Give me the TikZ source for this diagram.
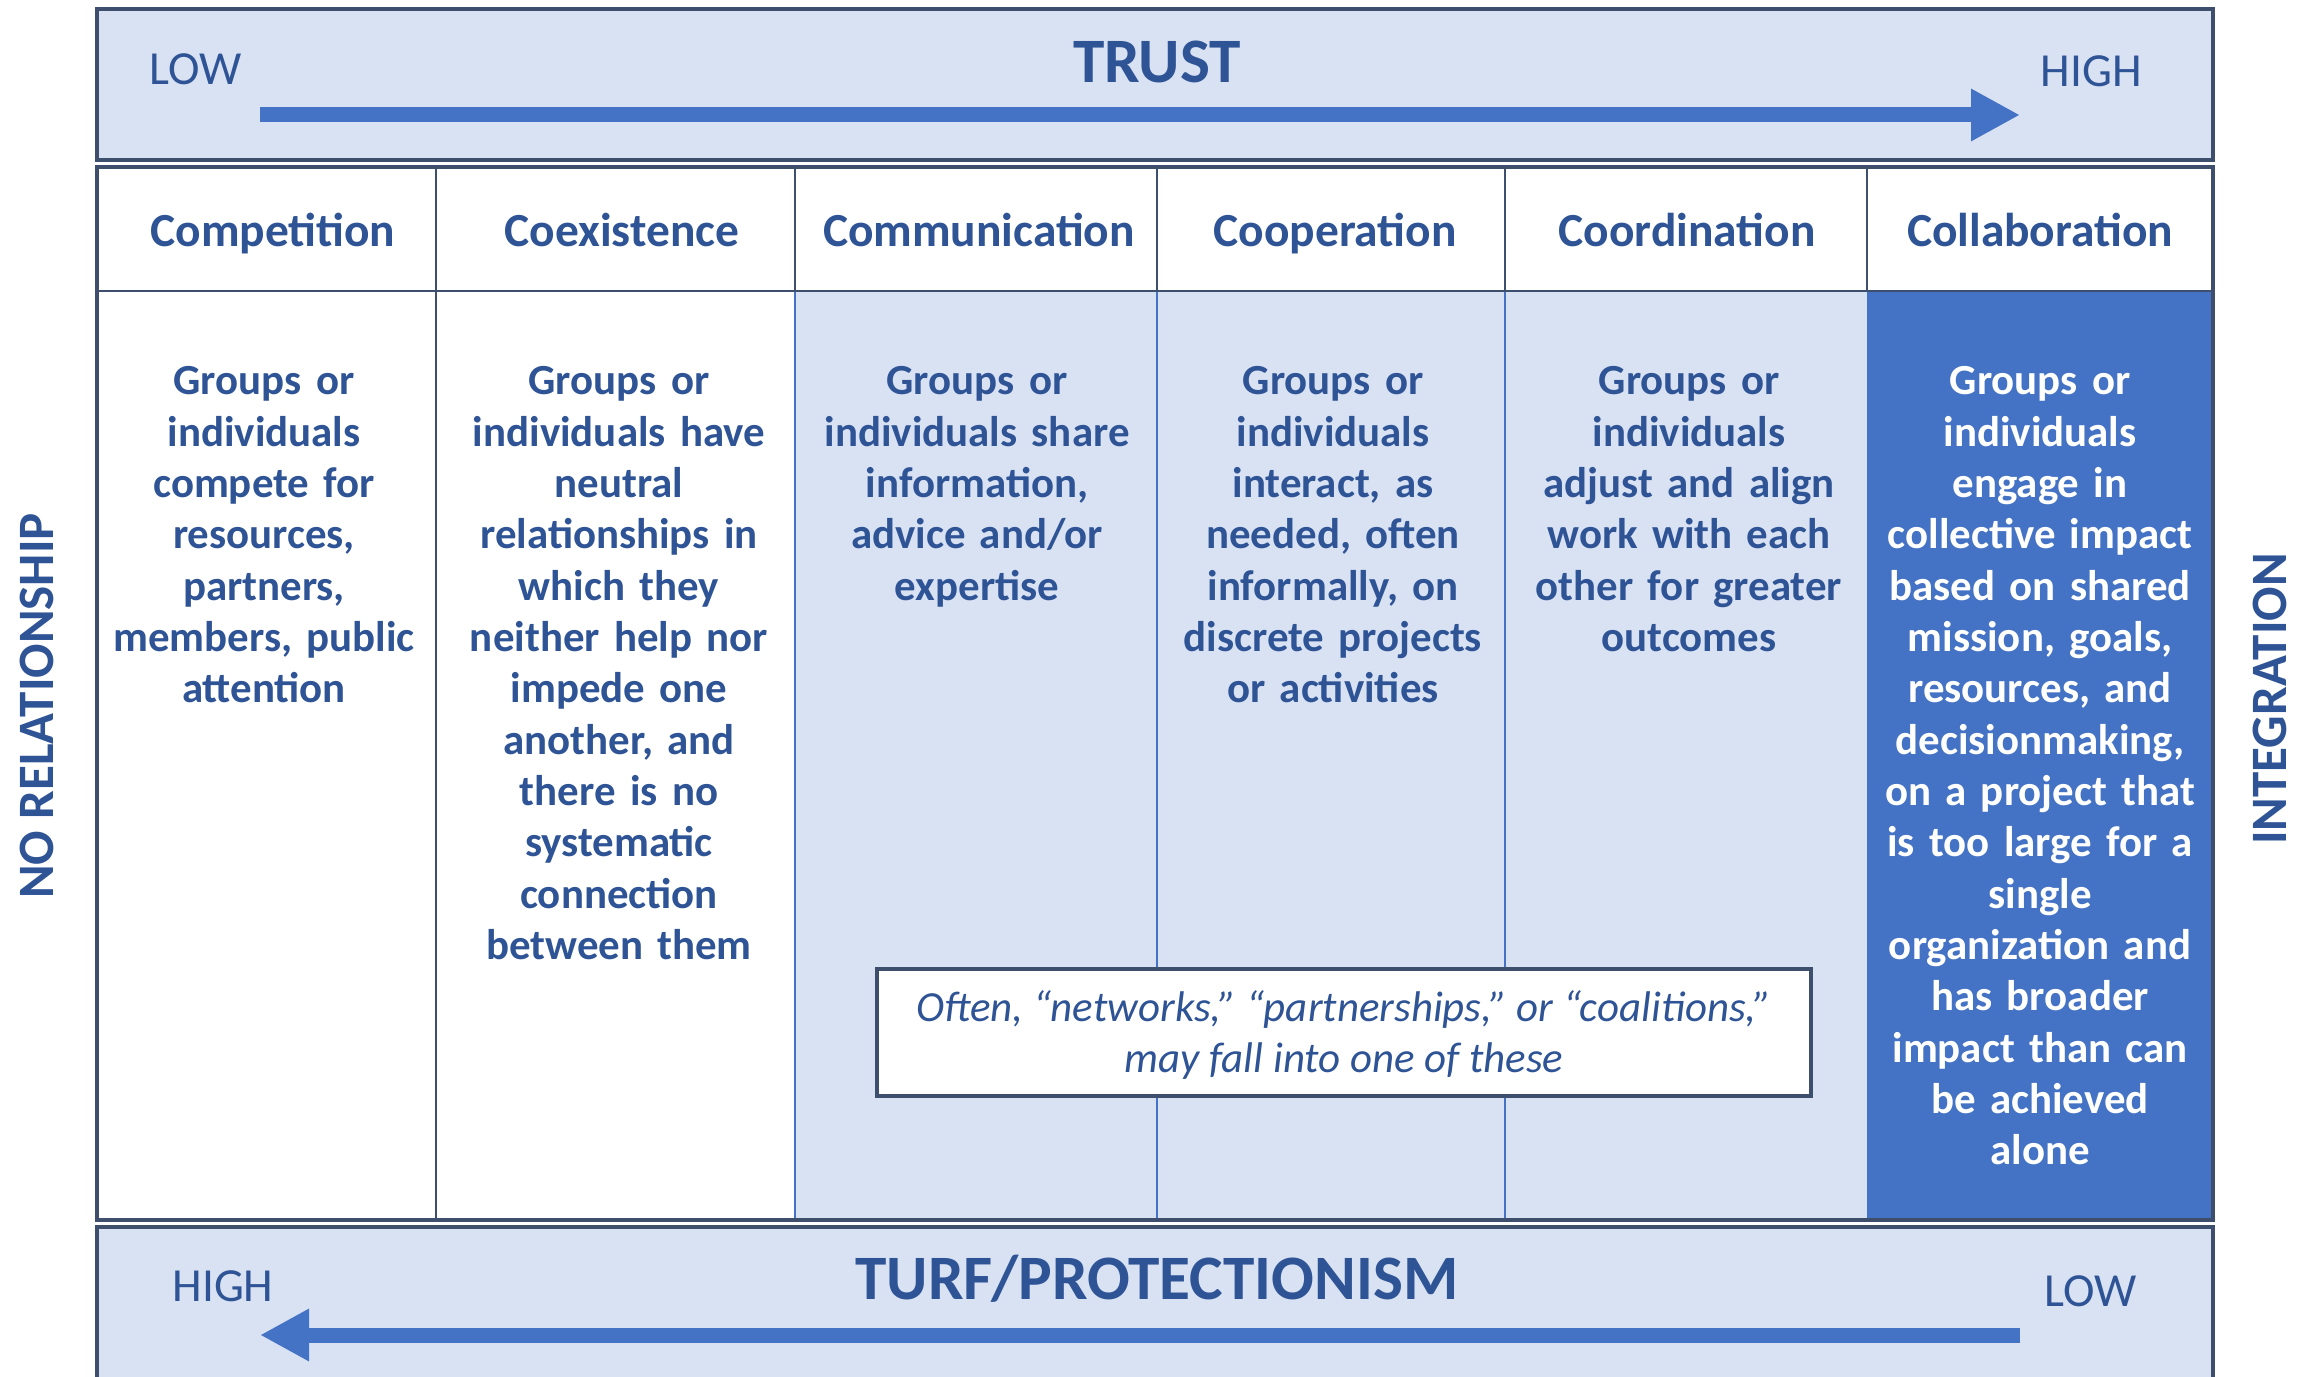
\documentclass[tikz,border=0pt]{standalone}
\usepackage{fontspec}
\setmainfont{Carlito}
\usetikzlibrary{arrows.meta}
\definecolor{lightbg}{HTML}{D9E2F3}
\definecolor{midblue}{HTML}{4472C4}
\definecolor{txtblue}{HTML}{2F5496}
\definecolor{framec}{HTML}{3E4F6E}
\begin{document}
\begin{tikzpicture}[x=0.01cm,y=-0.01cm,
  boxframe/.style={draw=framec, line width=0.9pt},
  gridline/.style={draw=framec, line width=0.4pt},
  bodyline/.style={draw=midblue, line width=0.5pt},
  headlabel/.style={text=txtblue, font=\fontsize{13.5}{16}\selectfont\bfseries, inner sep=0pt, anchor=base},
  celltext/.style={text=txtblue, font=\fontsize{12.2}{14.6}\selectfont\bfseries, align=center, text width=3.3cm, anchor=north, inner sep=0pt},
  axislabel/.style={text=txtblue, font=\fontsize{13.5}{16}\selectfont, inner sep=0pt},
  bigtitle/.style={text=txtblue, font=\fontsize{18}{21}\selectfont\bfseries, inner sep=0pt},
  sidelabel/.style={text=txtblue, font=\fontsize{14.5}{17}\selectfont\bfseries, rotate=90, inner sep=0pt},
  bigarrow/.style={draw=midblue, line width=1.5mm, -{Triangle[length=4.9mm,width=4.9mm]}}
]
\useasboundingbox (0,0) rectangle (2316,1377);
\clip (0,0) rectangle (2316,1377);
\fill[white] (0,0) rectangle (2316,1377);

% top box
\path[boxframe, fill=lightbg] (97,9) rectangle (2213,160);
\node[bigtitle] (trust) at (1157,62) {TRUST};
\node[axislabel] (tlow) at (196,69) {LOW};
\node[axislabel] (thigh) at (2091,71) {HIGH};
\coordinate (ta) at (260,115);
\coordinate (tb) at (2020,115);
\draw[bigarrow] (ta) -- (tb);

% table fills
\fill[white] (97,167) rectangle (2213,291);
\fill[white] (97,291) rectangle (795,1220);
\fill[lightbg] (795,291) rectangle (1867,1220);
\fill[midblue] (1867,291) rectangle (2213,1220);

% grid
\foreach \xx in {436,795,1157,1505,1867} \path[gridline] (\xx,167) -- (\xx,291);
\path[gridline] (436,291) -- (436,1220);
\foreach \xx in {795,1157,1505} \path[bodyline] (\xx,291) -- (\xx,1220);
\path[gridline] (97,291) -- (2213,291);
\path[boxframe] (97,167) rectangle (2213,1220);

% headers
\node[headlabel] (h1) at (273,247) {Competition};
\node[headlabel] (h2) at (622,247) {Coexistence};
\node[headlabel] (h3) at (979,247) {Communication};
\node[headlabel] (h4) at (1335,247) {Cooperation};
\node[headlabel] (h5) at (1687,247) {Coordination};
\node[headlabel] (h6) at (2040,247) {Collaboration};

% bodies
\node[celltext] (b1) at (264,366) {Groups or\\individuals\\compete for\\resources,\\partners,\\members, public\\attention};
\node[celltext] (b2) at (619,366) {Groups or\\individuals have\\neutral\\relationships in\\which they\\neither help nor\\impede one\\another, and\\there is no\\systematic\\connection\\between them};
\node[celltext] (b3) at (977,366) {Groups or\\individuals share\\information,\\advice and/or\\expertise};
\node[celltext] (b4) at (1333,366) {Groups or\\individuals\\interact, as\\needed, often\\informally, on\\discrete projects\\or activities};
\node[celltext] (b5) at (1689,366) {Groups or\\individuals\\adjust and align\\work with each\\other for greater\\outcomes};
\node[celltext, text=white] (b6) at (2040,366) {Groups or\\individuals\\engage in\\collective impact\\based on shared\\mission, goals,\\resources, and\\decisionmaking,\\on a project that\\is too large for a\\single\\organization and\\has broader\\impact than can\\be achieved\\alone};

% note box
\path[boxframe, fill=white] (877,969) rectangle (1811,1096);
\node[text=txtblue, font=\fontsize{12.2}{14.6}\selectfont\itshape, align=center, inner sep=0pt] (note) at (1344,1035) {Often, “networks,” “partnerships,” or “coalitions,”\\may fall into one of these};

% bottom box
\path[boxframe, fill=lightbg] (97,1227) rectangle (2213,1400);
\node[bigtitle] (turf) at (1157,1279) {TURF/PROTECTIONISM};
\node[axislabel] (bhigh) at (223,1286) {HIGH};
\node[axislabel] (blow) at (2091,1291) {LOW};
\coordinate (ba) at (2020,1335);
\coordinate (bb) at (260,1335);
\draw[bigarrow] (ba) -- (bb);

% side labels
\node[sidelabel] (norel) at (37,706) {NO RELATIONSHIP};
\node[sidelabel] (integ) at (2270,699) {INTEGRATION};
\end{tikzpicture}
\end{document}
